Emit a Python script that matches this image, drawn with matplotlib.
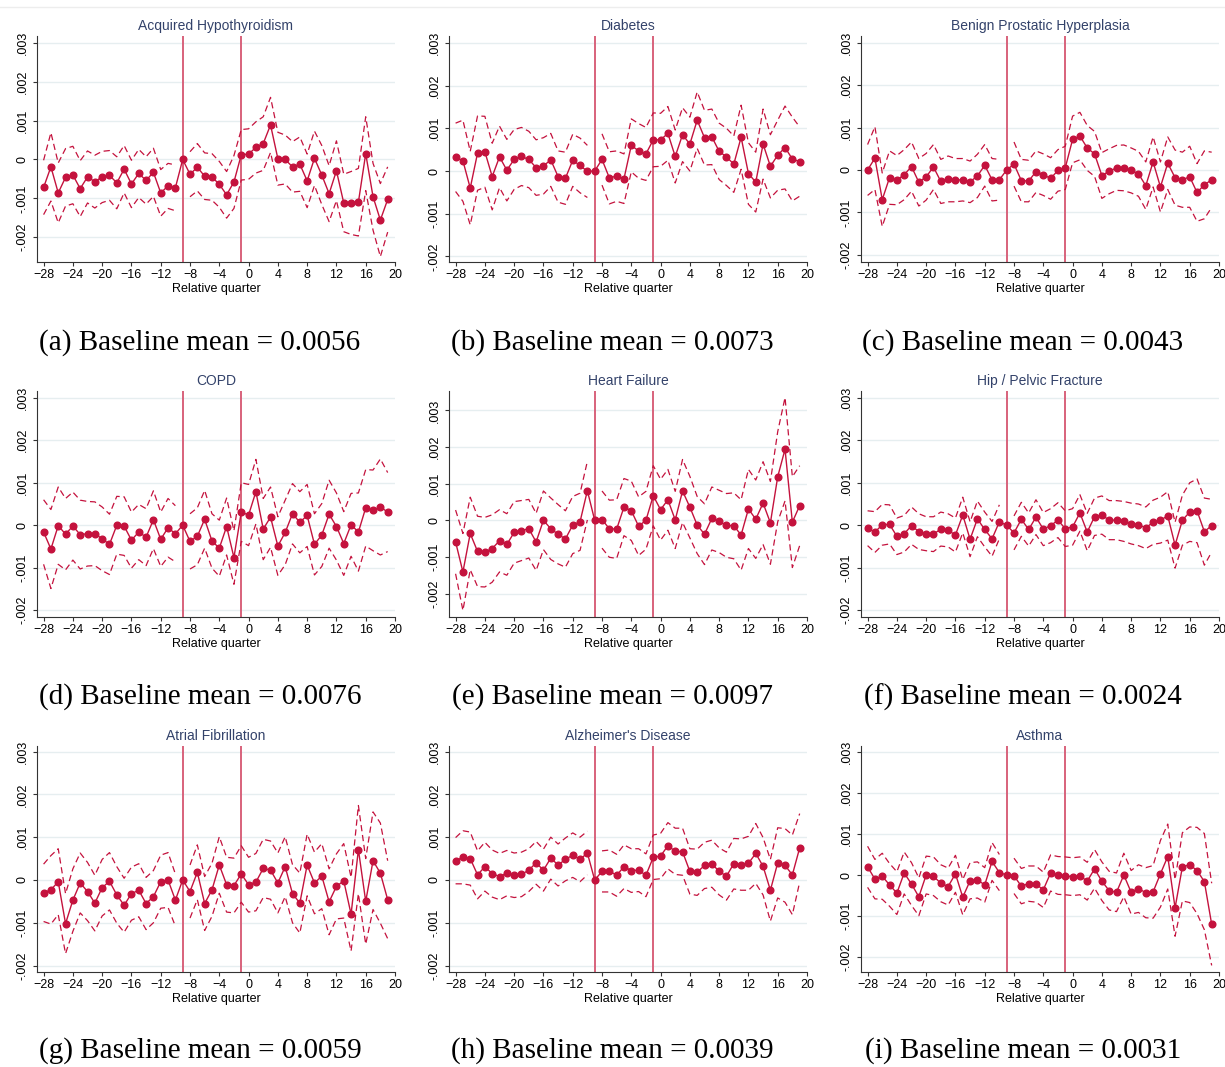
import matplotlib
matplotlib.use("Agg")
import matplotlib.pyplot as plt
import numpy as np

plt.rcParams['font.family'] = ['Liberation Sans', 'DejaVu Sans']

# relative quarters -28 .. 19, quarter -9 is the omitted reference period
quarters = np.arange(-28, 20)

titles = ["Acquired Hypothyroidism", "Diabetes", "Benign Prostatic Hyperplasia",
          "COPD", "Heart Failure", "Hip / Pelvic Fracture",
          "Atrial Fibrillation", "Alzheimer's Disease", "Asthma"]
letters = ["a", "b", "c", "d", "e", "f", "g", "h", "i"]
baseline = ["0.0056", "0.0073", "0.0043", "0.0076", "0.0097", "0.0024",
            "0.0059", "0.0039", "0.0031"]

nan = np.nan
# point estimates and 95% CI half-widths, in units of 0.0001
hypo_est = [-7.2, -1.9, -8.6, -4.6, -4.0, -7.5, -4.5, -5.7, -4.5, -4.1, -6.0, -2.5, -6.3, -3.6, -5.4, -3.3, -8.6, -6.8, -7.3, 0,
            -3.8, -2.0, -4.3, -4.5, -6.4, -9.1, -5.8, 1.2,
            1.4, 3.1, 4.1, 8.9, 0.2, 0.0, -1.9, -1.2, -5.5, 0.3, -4.0, -8.8, -2.9, -11.2, -11.2, -11.0, 1.5, -9.6, -15.6, -10.3]
hypo_hw = [7.0, 8.8, 7.7, 7.4, 7.4, 7.2, 6.7, 6.8, 6.6, 6.4, 6.7, 6.1, 6.1, 6.2, 6.1, 6.2, 6.0, 5.8, 5.9, nan,
           5.8, 6.1, 6.0, 6.0, 5.9, 6.0, 6.8, 6.5,
           6.5, 6.6, 6.9, 7.1, 6.8, 6.3, 6.5, 7.0, 6.9, 7.0, 7.6, 7.2, 7.7, 7.4, 8.1, 8.7, 9.5, 8.6, 9.4, 8.4]

diab_est = [3.2, 2.4, -4.0, 4.2, 4.5, -1.3, 3.3, 0.2, 2.7, 3.4, 2.7, 0.8, 1.2, 2.6, -1.3, -1.7, 2.5, 1.3, -0.1, 0,
            2.7, -1.6, -1.2, -1.8, 6.0, 4.7, 4.0, 7.3,
            7.3, 8.8, 3.4, 8.5, 6.3, 11.9, 7.8, 8.0, 4.6, 3.3, 1.6, 7.9, -0.6, -2.6, 6.3, 1.1, 3.7, 5.5, 2.8, 2.2]
diab_hw = [8.0, 9.5, 8.6, 8.7, 8.3, 7.8, 7.2, 7.2, 7.0, 6.8, 6.6, 6.5, 6.6, 6.2, 6.0, 6.1, 6.1, 6.4, 6.1, nan,
           6.0, 6.1, 5.9, 5.8, 6.2, 6.4, 6.2, 6.3,
           6.2, 6.3, 6.2, 6.3, 6.3, 6.6, 6.4, 6.5, 6.6, 6.7, 6.6, 7.5, 7.2, 7.0, 8.2, 7.4, 8.2, 9.7, 9.8, 8.1]

bph_est = [0.0, 2.8, -7.0, -1.8, -2.4, -1.1, 0.8, -2.9, -1.6, 0.7, -2.7, -2.1, -2.4, -2.3, -2.8, -1.4, 1.1, -2.3, -2.3, 0,
           1.4, -2.5, -2.6, -0.4, -1.1, -2.0, -0.1, 0.5,
           7.2, 8.0, 5.2, 3.8, -1.3, -0.3, 0.5, 0.5, -0.1, -0.9, -3.7, 1.9, -4.0, 1.6, -1.8, -2.3, -1.6, -5.3, -3.5, -2.3]
bph_hw = [6.0, 7.4, 6.3, 6.3, 5.8, 5.9, 5.8, 5.6, 5.5, 5.3, 5.2, 5.4, 5.1, 5.0, 4.9, 5.1, 4.9, 5.0, 4.8, nan,
          5.2, 5.0, 4.9, 4.9, 4.9, 4.9, 4.9, 5.1,
          5.5, 5.6, 5.3, 5.3, 5.4, 5.3, 5.3, 5.4, 5.3, 5.3, 5.6, 5.9, 5.9, 6.2, 6.5, 6.5, 7.2, 6.8, 8.0, 6.5]

copd_est = [-1.6, -5.6, -0.1, -2.1, -0.2, -2.2, -2.0, -2.0, -3.2, -4.5, 0.0, -0.2, -3.5, -1.6, -2.8, 1.3, -3.3, -0.6, -2.0, 0,
            -3.8, -2.6, 1.4, -3.7, -5.4, -0.3, -7.6, 3.1,
            2.4, 7.9, -0.9, 1.9, -4.9, -1.7, 2.7, 0.7, 2.3, -4.5, -2.3, 2.6, -0.3, -4.3, 0.1, -1.6, 4.1, 3.5, 4.3, 3.1]
copd_hw = [7.6, 9.3, 9.1, 8.4, 8.0, 8.1, 7.6, 7.5, 7.5, 7.1, 6.8, 6.9, 6.6, 6.5, 6.7, 6.8, 6.4, 6.9, 6.6, nan,
           6.5, 6.7, 6.8, 6.4, 6.6, 6.7, 6.3, 6.9,
           7.2, 7.6, 7.2, 7.1, 6.9, 7.6, 7.1, 7.2, 7.3, 7.2, 7.4, 8.0, 7.9, 7.5, 7.4, 9.2, 9.0, 9.5, 11.3, 9.3]

hf_est = [-5.9, -14.1, -3.6, -8.5, -8.7, -7.7, -5.6, -6.6, -3.3, -2.8, -2.3, -5.9, 0.0, -2.3, -3.8, -5.1, -1.3, -0.4, 8.1, 0,
          0.2, -2.3, -2.4, 3.6, 2.6, -1.6, 0.0, 6.7,
          2.9, 5.6, 0.1, 8.0, 3.6, -1.3, -3.8, 0.5, -0.3, -1.4, -1.5, -4.0, 3.1, 0.3, 4.7, -0.7, 11.9, 19.4, -0.5, 4.0]
hf_hw = [8.7, 10.5, 9.9, 9.6, 9.5, 9.2, 8.5, 8.4, 8.4, 8.2, 8.0, 7.8, 8.0, 8.4, 8.1, 7.7, 7.8, 7.8, 8.0, nan,
         7.8, 7.8, 8.0, 7.8, 8.1, 8.0, 7.9, 8.2,
         8.3, 8.3, 7.8, 8.6, 8.4, 7.8, 8.3, 8.6, 8.5, 8.7, 9.0, 9.6, 10.8, 10.7, 11.3, 11.3, 12.3, 14.1, 12.4, 10.9]

hip_est = [-0.7, -1.6, 0.1, 0.2, -2.6, -2.0, -0.1, -1.5, -2.0, -2.1, -0.9, -1.2, -2.3, 2.4, -3.3, 1.5, -1.0, -3.2, 0.8, 0,
           -1.8, 1.4, -1.0, 1.9, -0.9, -0.1, 1.2, -0.8,
           -0.4, 2.9, -1.6, 2.0, 2.4, 1.2, 1.2, 0.9, 0.4, 0.1, -0.6, 0.7, 1.2, 2.2, -4.7, 1.2, 3.1, 3.4, -1.5, -0.1]
hip_hw = [4.1, 4.8, 4.8, 4.6, 4.3, 4.3, 4.4, 4.2, 4.0, 4.1, 4.0, 3.9, 4.0, 4.2, 4.1, 4.2, 4.1, 4.1, 4.0, nan,
          4.0, 4.0, 3.9, 4.1, 3.9, 4.0, 4.1, 4.2,
          4.3, 4.3, 4.4, 4.4, 4.5, 4.6, 4.6, 4.7, 4.8, 4.9, 4.9, 5.2, 5.4, 5.7, 5.4, 5.9, 6.9, 7.5, 7.9, 6.2]

afib_est = [-3.0, -2.3, -0.4, -10.2, -4.7, -0.7, -2.7, -5.4, -1.8, -0.3, -3.5, -5.9, -3.2, -2.4, -5.5, -3.9, -0.4, 0.0, -4.7, 0,
            -2.7, 1.8, -5.5, -2.3, 3.5, -1.1, -1.3, 1.4,
            -1.1, -0.5, 2.7, 2.3, -0.7, 3.1, -3.2, -5.4, 3.5, -0.7, 0.9, -5.1, -1.5, -0.2, -8.0, 7.1, -5.0, 4.5, 1.6, -4.6]
afib_hw = [6.7, 8.0, 7.7, 7.0, 7.3, 7.0, 6.8, 6.5, 6.6, 6.7, 6.6, 6.3, 6.2, 6.2, 6.1, 6.1, 6.2, 6.4, 6.1, nan,
           6.2, 6.4, 6.3, 6.2, 6.6, 6.4, 6.4, 6.6,
           6.4, 6.7, 6.8, 6.8, 7.0, 7.0, 6.8, 7.0, 7.2, 7.2, 7.6, 7.7, 7.6, 8.7, 8.6, 10.3, 10.0, 11.4, 11.7, 9.1]

alz_est = [4.5, 5.3, 5.0, 1.2, 3.1, 1.5, 0.8, 1.6, 1.1, 1.3, 2.3, 4.0, 2.3, 5.1, 3.5, 4.8, 5.8, 4.8, 6.3, 0,
           2.0, 2.1, 1.1, 3.1, 2.2, 2.3, 1.1, 5.3,
           5.6, 8.0, 6.7, 6.6, 2.0, 1.8, 3.4, 3.8, 2.0, 0.9, 3.8, 3.6, 3.9, 6.2, 3.2, -2.4, 4.0, 3.4, 1.2, 7.5]
alz_hw = [5.4, 6.2, 6.2, 5.6, 5.7, 5.5, 5.4, 5.3, 5.2, 5.2, 5.0, 5.0, 4.9, 4.9, 4.9, 5.0, 5.2, 5.2, 5.1, nan,
          4.8, 4.9, 4.9, 5.1, 5.1, 5.0, 5.0, 5.2,
          5.3, 5.4, 5.4, 5.5, 5.3, 5.4, 5.4, 5.5, 5.5, 5.6, 5.9, 6.0, 6.3, 7.0, 6.7, 7.2, 8.2, 8.6, 9.3, 8.0]

asth_est = [2.0, -1.0, -0.3, -2.4, -4.4, 0.5, -2.2, -5.3, 0.0, -0.3, -2.0, -2.8, 0.3, -5.4, -1.4, -1.2, -2.4, 3.3, 0.6, 0,
            -0.2, -2.7, -2.1, -2.2, -3.6, 0.5, -0.1, -0.2,
            -0.4, -0.2, -1.5, 1.5, -1.5, -3.8, -4.2, 0.0, -4.2, -3.3, -4.3, -4.1, 0.3, 4.5, -8.0, 2.0, 2.5, 1.1, -1.6, -12.0]
asth_hw = [5.0, 4.8, 5.6, 5.2, 5.2, 5.1, 5.2, 4.6, 4.6, 4.7, 4.5, 4.5, 4.5, 4.3, 4.4, 4.4, 4.2, 4.6, 4.4, nan,
           4.3, 4.3, 4.3, 4.4, 4.3, 4.4, 4.6, 4.6,
           4.6, 4.6, 4.6, 4.7, 4.7, 4.7, 4.7, 5.3, 5.3, 5.8, 6.1, 6.4, 8.1, 7.9, 6.9, 8.3, 9.2, 10.5, 11.7, 10.0]

estimates = [hypo_est, diab_est, bph_est, copd_est, hf_est, hip_est, afib_est, alz_est, asth_est]
halfwidths = [hypo_hw, diab_hw, bph_hw, copd_hw, hf_hw, hip_hw, afib_hw, alz_hw, asth_hw]
unit = 1e-4

# y range of each panel (axis setting)
ylims = [(-0.00264, 0.00318), (-0.00213, 0.00316), (-0.00217, 0.00316),
         (-0.00216, 0.00316), (-0.00264, 0.00353), (-0.00216, 0.00316),
         (-0.00215, 0.00313), (-0.00215, 0.00313), (-0.00236, 0.00314)]

red = '#C4123D'
vcol = '#D8627B'
title_col = '#33426A'
grid_col = '#E6EEF0'

W, H = 1225, 1067
fig = plt.figure(figsize=(W / 100, H / 100), dpi=100)
fig.patch.set_facecolor('white')

col_left = [37, 449, 861]
row_top = [36, 391, 746]
ax_w, ax_h = 358, 226
cap_x = [200, 612, 1023]
cap_y = [343, 697, 1051]

yticks = [-0.002, -0.001, 0, 0.001, 0.002, 0.003]
ytl = ['-.002', '-.001', '0', '.001', '.002', '.003']

fig.add_artist(plt.Line2D([0, 1], [1 - 7 / H, 1 - 7 / H], color='#EDEDED', lw=1))

for i in range(9):
    r, c = divmod(i, 3)
    ax = fig.add_axes([col_left[c] / W, 1 - (row_top[r] + ax_h) / H, ax_w / W, ax_h / H])
    est = np.array(estimates[i]) * unit
    hw = np.array(halfwidths[i]) * unit

    for y in yticks:
        ax.axhline(y, color=grid_col, lw=1, zorder=0)
    ax.axvline(-9, color=vcol, lw=1.4, zorder=1)
    ax.axvline(-1, color=vcol, lw=1.4, zorder=1)

    ax.plot(quarters, est + hw, color=red, lw=0.9, dashes=(5, 3), zorder=2)
    ax.plot(quarters, est - hw, color=red, lw=0.9, dashes=(5, 3), zorder=2)
    ax.plot(quarters, est, color=red, lw=1.0, marker='o', markersize=4.8, zorder=3)

    ax.set_xlim(-28.9, 20)
    ax.set_ylim(*ylims[i])
    ax.set_xticks(np.arange(-28, 21, 4))
    ax.set_yticks(yticks)
    ax.set_yticklabels(ytl, rotation=90, va='center')
    ax.tick_params(axis='both', labelsize=9, length=3, width=0.8, color='#333333')
    ax.tick_params(axis='x', pad=2)
    ax.tick_params(axis='y', pad=3)
    for s in ['top', 'right']:
        ax.spines[s].set_visible(False)
    for s in ['left', 'bottom']:
        ax.spines[s].set_color('#333333')
        ax.spines[s].set_linewidth(0.8)
    ax.set_xlabel('Relative quarter', fontsize=9, labelpad=1.5)
    ax.set_title(titles[i], fontsize=10, color=title_col, pad=4)

    fig.text(cap_x[c] / W, 1 - cap_y[r] / H,
             '(%s) Baseline mean = %s' % (letters[i], baseline[i]),
             ha='center', va='center', fontsize=21, family='Liberation Serif')

plt.savefig('out.png', dpi=100)
